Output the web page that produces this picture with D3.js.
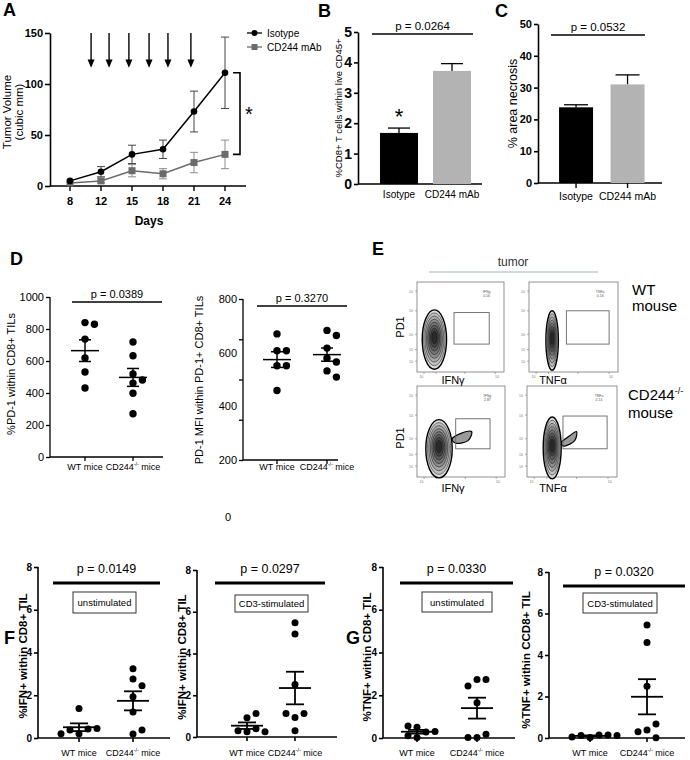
<!DOCTYPE html>
<html><head><meta charset="utf-8">
<script src="https://cdn.jsdelivr.net/npm/d3@7"></script>
<style>body{margin:0;background:#fff}svg{display:block}text{font-family:"Liberation Sans",Arial,Helvetica,sans-serif}</style>
</head><body><svg id="c" width="690" height="760"></svg>
<script>
// ---------------- DATA ----------------
const days = ["8","12","15","18","21","24"];
const isoMean = [5,14,31,36,73,111];
const isoErr  = [2,5,9,9,20,35];
const cdMean  = [3,5,15,12,23,31];
const cdErr   = [2,2,6,5,10,14];
const arrowDays = [0.68,1.26,1.9,2.55,3.16,3.9]; // in day-index units
const barGroups = ["Isotype","CD244 mAb"];
const cd8Vals = [1.68,3.72];
const cd8Err  = [0.16,0.24];
const necrosisVals = [23.8,31.0];
const necrosisErr  = [0.8,3.0];
const miceGroups = ["WT mice","CD244-/- mice"];
const pd1PctWT = [840,830,737,619,531,431];
const pd1PctKO = [719,633,519,481,462,398,270];
const pd1MfiWT = [670,607,607,551,551,459];
const pd1MfiKO = [683,664,617,579,565,532,509];
const ifnUnstimWT = [1.38,0.2,0.42,0.37,0.45,0.2];
const ifnUnstimKO = [3.24,2.76,2.45,1.93,1.22,0.19,0.38];
const ifnStimWT = [0.25,0.92,0.4,1.13,0.3,0.25];
const ifnStimKO = [5.47,4.93,2.52,0.94,1.13,1.13,0.3];
const tnfUnstimWT = [0.5,0.02,0.28,0.56,0.1,0.3];
const tnfUnstimKO = [2.74,2.74,2.43,1.65,0.02,0.18,0.02];
const tnfStimWT = [0.02,0.15,0.12,0.15,0.05,0.12];
const tnfStimKO = [5.45,4.6,2.5,0.38,0.67,0.3,0.01];
const pValues = ["p = 0.0264","p = 0.0532","p = 0.0389","p = 0.3270","p = 0.0149","p = 0.0297","p = 0.0330","p = 0.0320"];
const tickA = [0,50,100,150];
const tickB = [0,1,2,3,4,5];
const tickC = [0,10,20,30,40,50];
const tickDL = [0,200,400,600,800,1000];
const tickDRmarks = [200,350,500,650,800];
const tickDRlabels = [200,400,600,800];
const tickFG = [0,2,4,6,8];
// flow cytometry panel content (normalized plot units)
const flowGates = [[0.425,0.31,0.83,0.66],[0.42,0.31,0.9,0.68],[0.44,0.31,0.83,0.64],[0.40,0.31,0.89,0.67]];
const flowGateText = [["IFNg","0.16"],["TNFa","0.16"],["IFNg","2.87"],["TNFa","2.14"]];
const flowBlobs = [[0.2,0.36,0.14,0.33],[0.26,0.35,0.07,0.33],[0.25,0.31,0.15,0.32],[0.28,0.32,0.1,0.34]];
const flowTails = [null,null,[[0.4,0.42],[0.5,0.48],[0.62,0.5],[0.58,0.4],[0.45,0.37]],[[0.38,0.38],[0.47,0.45],[0.55,0.5],[0.53,0.4],[0.42,0.34]]];
const flowLevels = [0,1,2,3,4,5,6,7];
const flowYTicks = [0.12,0.25,0.42,0.68,0.9];
const flowXTicks = [0.08,0.22,0.55,0.9];
const flowXTickLabels = [0.05,0.92];

// ---------------- HELPERS ----------------
const svg = d3.select("#c");
svg.append("rect").attr("width",690).attr("height",760).attr("fill","#fff");
const NARROW = '"Liberation Sans Narrow","Liberation Sans",Arial,sans-serif';

function txt(g,s,x,y,o={}){
  const t=g.append("text").attr("x",x).attr("y",y).text(s)
    .attr("font-size",o.size||11).attr("fill",o.fill||"#000")
    .attr("text-anchor",o.anchor||"start");
  if(o.weight) t.attr("font-weight",o.weight);
  if(o.family) t.attr("font-family",o.family);
  if(o.rotate) t.attr("transform",`rotate(-90,${x},${y})`);
  return t;
}
function panelLabel(s,x,y){ txt(svg,s,x,y,{size:18,weight:"bold"}); }
function koLabel(g,x,y,size){
  const t=g.append("text").attr("x",x).attr("y",y).attr("text-anchor","middle").attr("font-size",size);
  t.append("tspan").text("CD244");
  t.append("tspan").text("-/-").attr("font-size",size*0.6).attr("dy",-size*0.4);
  t.append("tspan").text(" mice").attr("dy",size*0.4);
}
function styleAxis(g,sw){
  g.selectAll("path,line").attr("stroke","#000").attr("stroke-width",sw);
}
function mean(a){return d3.mean(a);}
function sem(a){return d3.deviation(a)/Math.sqrt(a.length);}
function swarm(vals,y,cx,r){
  const placed=[];
  vals.forEach(v=>{
    const py=y(v); let px=cx;
    for(let k=0;k<30;k++){
      const off = k===0?0:(k%2?1:-1)*Math.ceil(k/2)*(2*r+2);
      if(placed.every(q=>Math.hypot(q.px-(cx+off),q.py-py)>=2*r+1)){px=cx+off;break;}
    }
    placed.push({px,py});
  });
  return placed;
}

// ---------------- PANEL A ----------------
panelLabel("A",3,16);
{
  const g=svg.append("g");
  const x=d3.scaleLinear().domain([0,5]).range([70,225]);
  const y=d3.scaleLinear().domain([0,150]).range([186,33]);
  const ay=g.append("g").attr("transform","translate(50,0)")
    .call(d3.axisLeft(y).tickValues(tickA).tickFormat(d3.format("d")).tickSize(5).tickSizeOuter(0).tickPadding(2));
  styleAxis(ay,1.6);
  ay.selectAll("text").attr("font-size",11).attr("font-weight","bold").attr("font-family","Liberation Sans,Arial");
  g.append("line").attr("x1",50).attr("x2",246).attr("y1",y(0)).attr("y2",y(0)).attr("stroke","#000").attr("stroke-width",1.6);
  days.forEach((d,i)=>{
    g.append("line").attr("x1",x(i)).attr("x2",x(i)).attr("y1",y(0)).attr("y2",y(0)+5).attr("stroke","#000").attr("stroke-width",1.4);
    txt(g,d,x(i),205,{size:11,weight:"bold",anchor:"middle"});
  });
  txt(g,"Days",149,225,{size:12,weight:"bold",anchor:"middle"});
  txt(g,"Tumor Volume",11,112,{size:11.5,anchor:"middle",rotate:true});
  txt(g,"(cubic mm)",23,112,{size:11.5,anchor:"middle",rotate:true});
  arrowDays.forEach(a=>{
    const xx=x(a);
    g.append("line").attr("x1",xx).attr("x2",xx).attr("y1",y(150)).attr("y2",y(121)).attr("stroke","#000").attr("stroke-width",1.4);
    g.append("path").attr("d",`M${xx-3.5},${y(124)}L${xx+3.5},${y(124)}L${xx},${y(116)}Z`).attr("fill","#000");
  });
  const series=[{m:isoMean,e:isoErr,c:"#000",ec:"#444",sym:"circle"},{m:cdMean,e:cdErr,c:"#6b6b6b",ec:"#8c8c8c",sym:"square"}];
  series.slice().reverse().forEach(s=>{
    s.m.forEach((v,i)=>{
      if(i===0) return;
      const x0=x(i);
      g.append("line").attr("x1",x0).attr("x2",x0).attr("y1",y(v-s.e[i])).attr("y2",y(v+s.e[i])).attr("stroke",s.ec).attr("stroke-width",1);
      [v-s.e[i],v+s.e[i]].forEach(w=>g.append("line").attr("x1",x0-4).attr("x2",x0+4).attr("y1",y(w)).attr("y2",y(w)).attr("stroke",s.ec).attr("stroke-width",1));
    });
    g.append("path").attr("d",d3.line().x((d,i)=>x(i)).y(d=>y(d))(s.m)).attr("fill","none").attr("stroke",s.c).attr("stroke-width",1.5);
    s.m.forEach((v,i)=>{
      if(s.sym==="circle") g.append("circle").attr("cx",x(i)).attr("cy",y(v)).attr("r",3.3).attr("fill",s.c);
      else g.append("rect").attr("x",x(i)-3.5).attr("y",y(v)-3.5).attr("width",7).attr("height",7).attr("fill",s.c);
    });
  });
  g.append("line").attr("x1",247).attr("x2",262).attr("y1",33).attr("y2",33).attr("stroke","#000").attr("stroke-width",1.3);
  g.append("circle").attr("cx",254.5).attr("cy",33).attr("r",3).attr("fill","#000");
  txt(g,"Isotype",267,37,{size:10});
  g.append("line").attr("x1",247).attr("x2",262).attr("y1",47).attr("y2",47).attr("stroke","#6b6b6b").attr("stroke-width",1.3);
  g.append("rect").attr("x",251.5).attr("y",44).attr("width",6).attr("height",6).attr("fill","#6b6b6b");
  txt(g,"CD244 mAb",267,51,{size:10});
  g.append("path").attr("d",`M233,${y(isoMean[5])}H240V${y(cdMean[5])}H233`).attr("fill","none").attr("stroke","#000").attr("stroke-width",1.6);
  txt(g,"*",249,121,{size:20,anchor:"middle"});
}

// ---------------- BAR PANELS B, C ----------------
function barPanel(o){
  const g=svg.append("g");
  const y=d3.scaleLinear().domain(o.domain).range([o.yB,o.yT]);
  const x=d3.scaleBand().domain(barGroups).range(o.xr).paddingInner(o.pi).paddingOuter(o.po);
  const ay=g.append("g").attr("transform",`translate(${o.ax},0)`)
    .call(d3.axisLeft(y).tickValues(o.ticks).tickFormat(d3.format("d")).tickSize(o.tl).tickSizeOuter(0).tickPadding(2));
  styleAxis(ay,1.6);
  ay.selectAll("text").attr("font-size",o.tfs).attr("font-weight","bold");
  g.append("line").attr("x1",o.ax).attr("x2",o.axEnd).attr("y1",o.yB).attr("y2",o.yB).attr("stroke","#000").attr("stroke-width",1.6);
  const cols=["#000","#b3b3b3"];
  barGroups.forEach((c,i)=>{
    const cx=x(c)+x.bandwidth()/2;
    const top=y(o.vals[i]+o.errs[i]);
    g.append("line").attr("x1",cx).attr("x2",cx).attr("y1",y(o.vals[i])).attr("y2",top).attr("stroke","#000").attr("stroke-width",1.3);
    g.append("line").attr("x1",cx-o.cap).attr("x2",cx+o.cap).attr("y1",top).attr("y2",top).attr("stroke","#000").attr("stroke-width",1.3);
    g.append("rect").attr("x",x(c)).attr("y",y(o.vals[i])).attr("width",x.bandwidth()).attr("height",o.yB-y(o.vals[i])).attr("fill",cols[i]);
    if(o.xticks) g.append("line").attr("x1",cx).attr("x2",cx).attr("y1",o.yB).attr("y2",o.yB+5).attr("stroke","#000").attr("stroke-width",1.4);
    txt(g,c,cx,o.labY,{size:o.lfs,anchor:"middle"});
  });
  g.append("line").attr("x1",o.p[0]).attr("x2",o.p[1]).attr("y1",o.p[2]).attr("y2",o.p[2]).attr("stroke","#000").attr("stroke-width",1.3);
  txt(g,o.pt,(o.p[0]+o.p[1])/2,o.p[2]-4,{size:11.5,anchor:"middle"});
  txt(g,o.ylabel,o.ylx,(o.yT+o.yB)/2,{size:o.yls,anchor:"middle",rotate:true});
  return {g,x,y};
}
panelLabel("B",318,17);
{
  const r=barPanel({domain:[0,5],yB:184,yT:32,xr:[358,493],pi:0.283,po:0.415,ax:358,axEnd:482,ticks:tickB,tl:4,tfs:14,
    vals:cd8Vals,errs:cd8Err,cap:11,labY:198,lfs:10,p:[372,473,34],pt:pValues[0],ylabel:"%CD8+ T cells within live CD45+",ylx:342,yls:9.5});
  const cx=r.x(barGroups[0])+r.x.bandwidth()/2;
  txt(r.g,"*",cx,124,{size:22,anchor:"middle"});
}
panelLabel("C",495,17);
barPanel({domain:[0,50],yB:183,yT:24,xr:[540,663.6],pi:0.34,po:0.37,ax:538,axEnd:662,ticks:tickC,tl:4,tfs:11,
  vals:necrosisVals,errs:necrosisErr,cap:12,labY:200,lfs:10.5,xticks:true,p:[551,645,35],pt:pValues[1],ylabel:"% area necrosis",ylx:517,yls:12.5});

// ---------------- DOT PANELS ----------------
function dotPanel(o){
  const g=svg.append("g");
  const y=d3.scaleLinear().domain(o.domain).range([o.yB,o.yT]);
  const x=d3.scalePoint().domain(miceGroups).range(o.cats);
  const ay=g.append("g").attr("transform",`translate(${o.ax},0)`)
    .call(d3.axisLeft(y).tickValues(o.tickMarks).tickFormat("").tickSize(o.tl).tickSizeOuter(0));
  styleAxis(ay,o.sw);
  ay.select(".domain").attr("d",`M0,${o.yB}V${o.yT}`);
  o.tickLabels.forEach(t=>txt(g,String(t),o.ax-o.tl-2,y(t)+o.tfs*0.36,{size:o.tfs,anchor:"end",weight:o.bold?"bold":null}));
  g.append("line").attr("x1",o.ax).attr("x2",o.axEnd).attr("y1",o.yB).attr("y2",o.yB).attr("stroke","#000").attr("stroke-width",o.sw);
  miceGroups.forEach((c,i)=>{
    const cx=x(c);
    g.append("line").attr("x1",cx).attr("x2",cx).attr("y1",o.yB).attr("y2",o.yB+4).attr("stroke","#000").attr("stroke-width",o.sw);
    if(i===0) txt(g,c,cx,o.labY,{size:o.lfs,anchor:"middle"});
    else koLabel(g,cx,o.labY,o.lfs);
    const vals=o.data[i];
    swarm(vals,y,cx,o.r).forEach(p=>g.append("circle").attr("cx",p.px).attr("cy",p.py).attr("r",o.r).attr("fill","#000"));
    const m=mean(vals), s=sem(vals);
    g.append("line").attr("x1",cx-o.mw).attr("x2",cx+o.mw).attr("y1",y(m)).attr("y2",y(m)).attr("stroke","#000").attr("stroke-width",o.lw);
    g.append("line").attr("x1",cx).attr("x2",cx).attr("y1",y(m-s)).attr("y2",y(m+s)).attr("stroke","#000").attr("stroke-width",o.lw);
    [m-s,m+s].forEach(w=>g.append("line").attr("x1",cx-o.cw).attr("x2",cx+o.cw).attr("y1",y(w)).attr("y2",y(w)).attr("stroke","#000").attr("stroke-width",o.lw));
  });
  g.append("line").attr("x1",o.p[0]).attr("x2",o.p[1]).attr("y1",o.p[2]).attr("y2",o.p[2]).attr("stroke","#000").attr("stroke-width",o.pw);
  txt(g,o.pt,(o.p[0]+o.p[1])/2,o.pty,{size:o.pfs,anchor:"middle",family:o.pfam||null});
  if(o.box){
    const b=o.box;
    g.append("rect").attr("x",b[0]).attr("y",b[1]).attr("width",b[2]-b[0]).attr("height",b[3]-b[1]).attr("fill","#fff").attr("stroke","#333").attr("stroke-width",1);
    txt(g,b[4],(b[0]+b[2])/2,(b[1]+b[3])/2+3.5,{size:9.5,anchor:"middle"});
  }
  txt(g,o.ylabel,o.ylx,o.yly,{size:o.yls,anchor:"middle",rotate:true,weight:o.bold?"bold":null});
}
panelLabel("D",10,265);
dotPanel({domain:[0,1000],yB:457,yT:297,cats:[85,133],ax:50,axEnd:163,tickMarks:tickDL,tickLabels:tickDL,tl:4,sw:1.3,tfs:11,
  labY:470,lfs:9,data:[pd1PctWT,pd1PctKO],r:3.7,mw:14,cw:6,lw:1.5,p:[72,162,302],pw:1.6,pt:pValues[2],pty:298,pfs:11,
  ylabel:"%PD-1  within  CD8+ TILs",ylx:15,yly:374,yls:11});
dotPanel({domain:[200,800],yB:460,yT:299,cats:[277,327],ax:243,axEnd:338,tickMarks:tickDRmarks,tickLabels:tickDRlabels,tl:4,sw:1.3,tfs:11,
  labY:470,lfs:9,data:[pd1MfiWT,pd1MfiKO],r:3.7,mw:14,cw:6,lw:1.5,p:[257,347,306],pw:1.6,pt:pValues[3],pty:302,pfs:11,
  ylabel:"PD-1 MFI within PD-1+ CD8+ TILs",ylx:203,yly:380,yls:11});
txt(svg,"0",228,521,{size:11,anchor:"middle"});

panelLabel("F",4,644);
dotPanel({domain:[0,8],yB:738,yT:567,cats:[79,133],ax:38,axEnd:170,tickMarks:tickFG,tickLabels:tickFG,tl:4,sw:1.6,tfs:10,bold:true,
  labY:756,lfs:9,data:[ifnUnstimWT,ifnUnstimKO],r:3.5,mw:16,cw:9,lw:1.8,p:[53,160,583],pw:3,pt:pValues[4],pty:573,pfs:12.5,pfam:NARROW,
  box:[73,592,136,613,"unstimulated"],ylabel:"%IFN+ within CD8+ TIL",ylx:27,yly:656,yls:11.5});
dotPanel({domain:[0,8],yB:737,yT:570,cats:[247,295],ax:197,axEnd:337,tickMarks:tickFG,tickLabels:tickFG,tl:4,sw:1.6,tfs:10,bold:true,
  labY:756,lfs:9,data:[ifnStimWT,ifnStimKO],r:3.5,mw:16,cw:9,lw:1.8,p:[215,325,583],pw:3,pt:pValues[5],pty:573,pfs:12.5,pfam:NARROW,
  box:[235,595,308,612,"CD3-stimulated"],ylabel:"%IFN+ within CD8+ TIL",ylx:186,yly:657,yls:11.5});
panelLabel("G",346,644);
dotPanel({domain:[0,8],yB:738,yT:567,cats:[417,477],ax:383,axEnd:515,tickMarks:tickFG,tickLabels:tickFG,tl:4,sw:1.6,tfs:10,bold:true,
  labY:756,lfs:9,data:[tnfUnstimWT,tnfUnstimKO],r:3.5,mw:16,cw:9,lw:1.8,p:[400,513,583],pw:3,pt:pValues[6],pty:573,pfs:12.5,pfam:NARROW,
  box:[422,592,492,612,"unstimulated"],ylabel:"%TNF+ within CD8+ TIL",ylx:371,yly:657,yls:11.5});
dotPanel({domain:[0,8],yB:738,yT:572,cats:[590,647],ax:549,axEnd:685,tickMarks:tickFG,tickLabels:tickFG,tl:4,sw:1.6,tfs:10,bold:true,
  labY:756,lfs:9,data:[tnfStimWT,tnfStimKO],r:3.5,mw:16,cw:9,lw:1.8,p:[563,685,586],pw:3,pt:pValues[7],pty:576,pfs:12.5,pfam:NARROW,
  box:[583,593,657,613,"CD3-stimulated"],ylabel:"%TNF+ within CCD8+ TIL",ylx:530,yly:660,yls:11.5});

// ---------------- PANEL E (flow plots) ----------------
panelLabel("E",372,255);
{
  const g=svg.append("g");
  txt(g,"tumor",513,266,{size:12,anchor:"middle",fill:"#333"});
  g.append("line").attr("x1",429).attr("x2",598).attr("y1",272).attr("y2",272).attr("stroke","#9db3cc").attr("stroke-width",1.2);
  const frames=[[417,282,504,372],[529,282,618,372],[417,386,505,477],[527,386,617,477]];
  const shade=d3.scaleLinear().domain([0,flowLevels.length-1]).range(["#d9d9d9","#2a2a2a"]);
  frames.forEach((f,i)=>{
    const x=d3.scaleLinear().domain([0,1]).range([f[0],f[2]]);
    const y=d3.scaleLinear().domain([0,1]).range([f[3],f[1]]);
    g.append("rect").attr("x",f[0]).attr("y",f[1]).attr("width",f[2]-f[0]).attr("height",f[3]-f[1]).attr("fill","#fff").attr("stroke","#777").attr("stroke-width",0.8);
    flowYTicks.forEach(t=>{
      g.append("line").attr("x1",f[0]).attr("x2",f[0]-2).attr("y1",y(t)).attr("y2",y(t)).attr("stroke","#777").attr("stroke-width",0.6);
      txt(g,"10",f[0]-4,y(t)+1.5,{size:3.5,anchor:"end",fill:"#777"});
    });
    flowXTicks.forEach(t=>{
      g.append("line").attr("x1",x(t)).attr("x2",x(t)).attr("y1",f[3]).attr("y2",f[3]+2).attr("stroke","#777").attr("stroke-width",0.6);
    });
    flowXTickLabels.forEach(t=>txt(g,"10",x(t),f[3]+6,{size:3.5,anchor:"middle",fill:"#777"}));
    const b=flowBlobs[i];
    if(flowTails[i]){
      g.append("path").attr("d",d3.line().curve(d3.curveCardinalClosed).x(d=>x(d[0])).y(d=>y(d[1]))(flowTails[i]))
        .attr("fill","#9a9a9a").attr("stroke","#000").attr("stroke-width",1.2);
    }
    flowLevels.forEach(k=>{
      const s=1-k/flowLevels.length*0.9;
      g.append("ellipse").attr("cx",x(b[0])).attr("cy",y(b[1]+ (1-s)*0.03))
        .attr("rx",(x(b[2])-x(0))*s).attr("ry",(y(0)-y(b[3]))*s)
        .attr("fill",shade(k)).attr("stroke",k===0?"#000":"#111").attr("stroke-width",k===0?1.4:0.5);
    });
    const gt=flowGates[i];
    g.append("rect").attr("x",x(gt[0])).attr("y",y(gt[3])).attr("width",x(gt[2])-x(gt[0])).attr("height",y(gt[1])-y(gt[3]))
      .attr("fill","none").attr("stroke","#666").attr("stroke-width",0.9);
    txt(g,flowGateText[i][0],x(0.8),y(0.88),{size:3.5,anchor:"middle",fill:"#555"});
    txt(g,flowGateText[i][1],x(0.8),y(0.83),{size:3.5,anchor:"middle",fill:"#555"});
  });
  txt(g,"PD1",404,327,{size:11,anchor:"middle",rotate:true});
  txt(g,"PD1",404,438,{size:11,anchor:"middle",rotate:true});
  txt(g,"IFNγ",453,384,{size:11,anchor:"middle"});
  txt(g,"TNFα",553,384,{size:11,anchor:"middle"});
  txt(g,"IFNγ",453,492,{size:11,anchor:"middle"});
  txt(g,"TNFα",553,492,{size:11,anchor:"middle"});
  txt(g,"WT",632,295,{size:15});
  txt(g,"mouse",632,311,{size:15});
  const t=g.append("text").attr("x",628).attr("y",400).attr("font-size",15);
  t.append("tspan").text("CD244");
  t.append("tspan").text("-/-").attr("font-size",9).attr("dy",-6);
  txt(g,"mouse",628,418,{size:15});
}
</script></body></html>
